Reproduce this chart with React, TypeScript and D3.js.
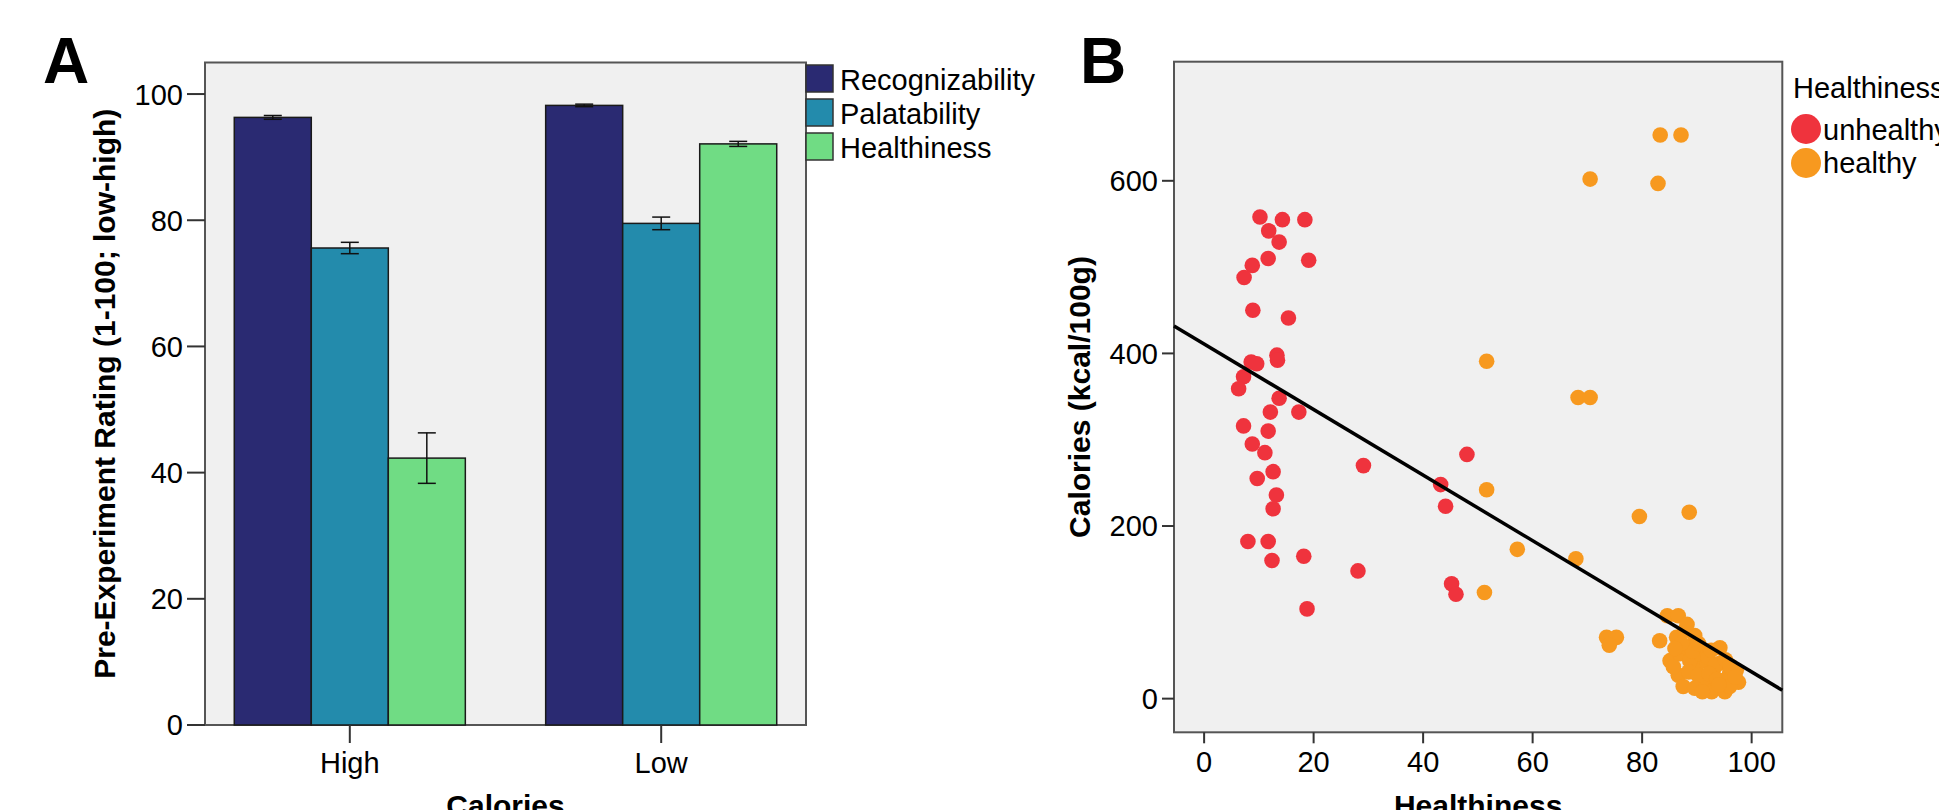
import * as d3 from "d3";

// Panel A data
const calorieGroups = ["High", "Low"];
const ratingSeries = ["Recognizability", "Palatability", "Healthiness"];
const ratingMeans = [
  [96.3, 75.6, 42.3],
  [98.2, 79.5, 92.1],
];
const ratingErrors = [
  [0.3, 0.9, 4.0],
  [0.2, 1.0, 0.4],
];
const ratingTicks = [0, 20, 40, 60, 80, 100];

// Panel B data: [healthiness, calories]
const unhealthyFoods = [
  [10.2, 558], [14.3, 555], [18.4, 555], [11.8, 542], [13.7, 529], [11.7, 510],
  [19.1, 508], [8.8, 502], [7.3, 488], [8.9, 450], [15.4, 441], [8.6, 390],
  [9.6, 388], [13.3, 398], [13.4, 392], [7.2, 373], [6.3, 359], [13.7, 348],
  [12.1, 332], [17.3, 332], [7.2, 316], [11.7, 310], [8.8, 295], [11.1, 285],
  [12.6, 263], [9.7, 255], [13.2, 236], [12.6, 220], [8.0, 182], [11.7, 182],
  [12.4, 160], [18.2, 165], [18.8, 104], [29.1, 270], [28.1, 148], [48.0, 283],
  [43.2, 248], [44.1, 223], [45.2, 133], [46.0, 121],
];
const healthyFoods = [
  [51.6, 391], [68.3, 349], [70.5, 349], [83.3, 653], [87.1, 653], [70.5, 602],
  [82.9, 597], [88.6, 216], [79.5, 211], [57.2, 173], [67.9, 162], [51.6, 242],
  [51.2, 123], [73.5, 71], [75.3, 71], [74.0, 62], [83.2, 67], [84.6, 96],
  [86.6, 96], [86.3, 71], [87.8, 79], [89.6, 73], [94.2, 59], [85.1, 44],
  [86.9, 52], [86.6, 27], [87.5, 14], [89.9, 37], [91.8, 44], [93.0, 33],
  [91.5, 14], [92.7, 8], [95.1, 8], [96.0, 29], [97.6, 19], [97.2, 33],
  [88.7, 44], [90.6, 52], [94.2, 41], [94.8, 21], [90.9, 21], [85.7, 37],
  [88.0, 60], [89.2, 55], [92.0, 48], [93.3, 38], [95.2, 45], [96.1, 38],
  [88.5, 31], [90.2, 27], [92.2, 29], [93.6, 22], [96.0, 14], [89.6, 12],
  [91.0, 8], [94.0, 16], [97.0, 25], [87.2, 64], [90.3, 64], [88.2, 86],
  [92.6, 56], [86.0, 58],
];
const healthTicks = [0, 20, 40, 60, 80, 100];
const calorieTicks = [0, 200, 400, 600];
const fitIntercept = 411;
const fitSlope = -3.8;

const barColors = ["#2a2a72", "#238bac", "#70dc84"];
const dotColors = { unhealthy: "#ef333d", healthy: "#f7991f" };
const font = "'Liberation Sans', Arial, sans-serif";

function PanelA() {
  const left = 205, right = 806, top = 62.5, bottom = 725;

  const x = d3.scaleBand().domain(calorieGroups).range([left, right])
    .paddingInner(0.258).paddingOuter(0.094);
  const xs = d3.scaleBand().domain(ratingSeries).range([0, x.bandwidth()]);
  const y = d3.scaleLinear().domain([0, 105]).range([bottom, top]);

  return (
    <g fontFamily={font}>
      <rect x={left} y={top} width={right - left} height={bottom - top}
        fill="#f0f0f0" stroke="#555" strokeWidth={2} />

      {calorieGroups.map((grp, gi) => (
        <g key={grp} transform={`translate(${x(grp)},0)`}>
          {ratingSeries.map((s, si) => {
            const v = ratingMeans[gi][si];
            const e = ratingErrors[gi][si];
            const cx = xs(s) + xs.bandwidth() / 2;
            return (
              <g key={s}>
                <rect x={xs(s)} y={y(v)} width={xs.bandwidth()} height={bottom - y(v)}
                  fill={barColors[si]} stroke="#1a1a1a" strokeWidth={1.5} />
                <line x1={cx} x2={cx} y1={y(v + e)} y2={y(v - e)} stroke="#111" strokeWidth={1.5} />
                <line x1={cx - 9} x2={cx + 9} y1={y(v + e)} y2={y(v + e)} stroke="#111" strokeWidth={1.5} />
                <line x1={cx - 9} x2={cx + 9} y1={y(v - e)} y2={y(v - e)} stroke="#111" strokeWidth={1.5} />
              </g>
            );
          })}
        </g>
      ))}

      {/* y axis */}
      {ratingTicks.map(t => (
        <g key={t} transform={`translate(${left},${y(t)})`}>
          <line x1={-18} x2={0} stroke="#333" strokeWidth={2} />
          <text x={-22} dy="0.36em" textAnchor="end" fontSize={29}>{t}</text>
        </g>
      ))}
      {/* x axis */}
      {calorieGroups.map(grp => {
        const cx = x(grp) + x.bandwidth() / 2;
        return (
          <g key={grp} transform={`translate(${cx},${bottom})`}>
            <line y1={0} y2={18} stroke="#333" strokeWidth={2} />
            <text y={48} textAnchor="middle" fontSize={29}>{grp}</text>
          </g>
        );
      })}

      <text transform={`translate(115,${(top + bottom) / 2}) rotate(-90)`}
        textAnchor="middle" fontSize={30} fontWeight="bold">
        Pre-Experiment Rating (1-100; low-high)
      </text>
      <text x={(left + right) / 2} y={816} textAnchor="middle" fontSize={30} fontWeight="bold">
        Calories
      </text>

      {/* legend */}
      {ratingSeries.map((s, i) => (
        <g key={s} transform={`translate(${right},${65 + i * 34})`}>
          <rect width={27} height={27} fill={barColors[i]} stroke="#333" strokeWidth={1.5} />
          <text x={34} y={25} fontSize={29}>{s}</text>
        </g>
      ))}

      <text x={43} y={83} fontSize={64} fontWeight="bold">A</text>
    </g>
  );
}

function PanelB() {
  const left = 1174, right = 1782.3, top = 61.7, bottom = 732.3;

  const x = d3.scaleLinear().domain([-5.5, 105.6]).range([left, right]);
  const y = d3.scaleLinear().domain([-39, 738]).range([bottom, top]);
  const fit = d3.line<number>()
    .x(h => x(h))
    .y(h => y(fitIntercept + fitSlope * h));

  return (
    <g fontFamily={font}>
      <rect x={left} y={top} width={right - left} height={bottom - top}
        fill="#f0f0f0" stroke="#555" strokeWidth={2} />

      {unhealthyFoods.map((d, i) => (
        <circle key={"u" + i} cx={x(d[0])} cy={y(d[1])} r={7.8} fill={dotColors.unhealthy} />
      ))}
      {healthyFoods.map((d, i) => (
        <circle key={"h" + i} cx={x(d[0])} cy={y(d[1])} r={7.8} fill={dotColors.healthy} />
      ))}

      <path d={fit(x.domain()) || ""} stroke="#000" strokeWidth={3.5} fill="none" />

      {calorieTicks.map(t => (
        <g key={t} transform={`translate(${left},${y(t)})`}>
          <line x1={-12} x2={0} stroke="#333" strokeWidth={2} />
          <text x={-16} dy="0.36em" textAnchor="end" fontSize={29}>{t}</text>
        </g>
      ))}
      {healthTicks.map(t => (
        <g key={t} transform={`translate(${x(t)},${bottom})`}>
          <line y1={0} y2={11} stroke="#333" strokeWidth={2} />
          <text y={40} textAnchor="middle" fontSize={29}>{t}</text>
        </g>
      ))}

      <text transform={`translate(1090,${(top + bottom) / 2}) rotate(-90)`}
        textAnchor="middle" fontSize={30} fontWeight="bold">
        Calories (kcal/100g)
      </text>
      <text x={(left + right) / 2} y={816} textAnchor="middle" fontSize={30} fontWeight="bold">
        Healthiness
      </text>

      {/* legend */}
      <text x={1793} y={98} fontSize={29}>Healthiness</text>
      <circle cx={1806} cy={129} r={15} fill={dotColors.unhealthy} />
      <text x={1823} y={140} fontSize={29}>unhealthy</text>
      <circle cx={1806} cy={163} r={15} fill={dotColors.healthy} />
      <text x={1823} y={173} fontSize={29}>healthy</text>

      <text x={1080} y={83} fontSize={64} fontWeight="bold">B</text>
    </g>
  );
}

export default function App() {
  return (
    <svg width={1939} height={810} style={{ position: "absolute", left: 0, top: 0, background: "#fff" }}>
      <PanelA />
      <PanelB />
    </svg>
  );
}
